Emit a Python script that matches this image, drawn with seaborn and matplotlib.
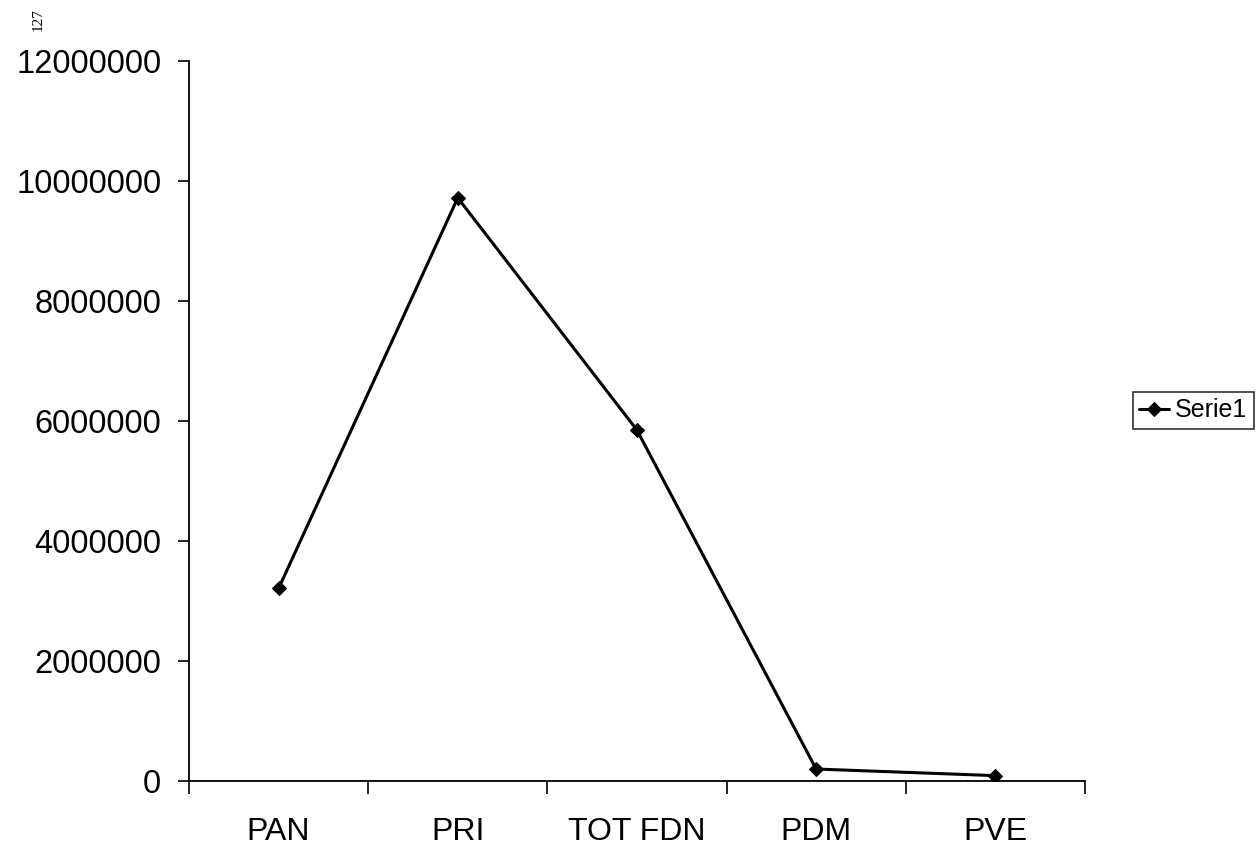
import matplotlib
matplotlib.use("Agg")
import matplotlib.pyplot as plt
import seaborn as sns
import numpy as np

# values
partidos = ["PAN", "PRI", "TOT FDN", "PDM", "PVE"]
votos = [3210000, 9720000, 5850000, 200000, 90000]
y_ticks = [0, 2000000, 4000000, 6000000, 8000000, 10000000, 12000000]

sns.set_style("white")
plt.rcParams["font.family"] = ["Liberation Sans", "DejaVu Sans"]
plt.rcParams["text.color"] = "black"
plt.rcParams["xtick.color"] = "black"
plt.rcParams["ytick.color"] = "black"

fig = plt.figure(figsize=(12.6, 8.46), dpi=100)
ax = fig.add_axes([0.150, 0.0768, 0.711, 0.851])

sns.lineplot(x=partidos, y=votos, sort=False, color="black", linewidth=2.2,
             marker="D", markersize=7, markeredgecolor="black",
             label="Serie1", legend=False, ax=ax)

ax.set_xlim(-0.5, len(partidos) - 0.5)
ax.set_ylim(0, 12000000)
ax.set_yticks(y_ticks)
ax.set_yticklabels([str(v) for v in y_ticks], fontsize=23.5)
ax.set_xticks(range(len(partidos)))
ax.set_xticklabels(partidos, fontsize=23)
ax.set_xticks(np.arange(-0.5, len(partidos), 1.0), minor=True)
ax.tick_params(axis="x", which="major", length=0, pad=26)
ax.tick_params(axis="x", which="minor", length=9, width=1.2, color="black",
               direction="out", bottom=True)
ax.tick_params(axis="y", length=8, width=1.2, color="black", direction="out",
               left=True, pad=12)
ax.set_xlabel("")
ax.set_ylabel("")

for side in ["top", "right"]:
    ax.spines[side].set_visible(False)
for side in ["left", "bottom"]:
    ax.spines[side].set_color("black")
    ax.spines[side].set_linewidth(1.3)

handles, labels = ax.get_legend_handles_labels()
leg = fig.legend(handles, labels, loc="center left",
                 bbox_to_anchor=(0.899, 0.515), bbox_transform=fig.transFigure,
                 fontsize=18, frameon=True, fancybox=False, handlelength=1.2,
                 handletextpad=0.25, borderpad=0.25, borderaxespad=0)
leg.get_frame().set_edgecolor("black")
leg.get_frame().set_linewidth(1.2)

# page number from the scanned sheet
fig.text(0.030, 0.990, "127", rotation=90, fontsize=11,
         family=["Liberation Serif", "DejaVu Serif"], ha="center", va="top")

fig.savefig("out.png", dpi=100)
